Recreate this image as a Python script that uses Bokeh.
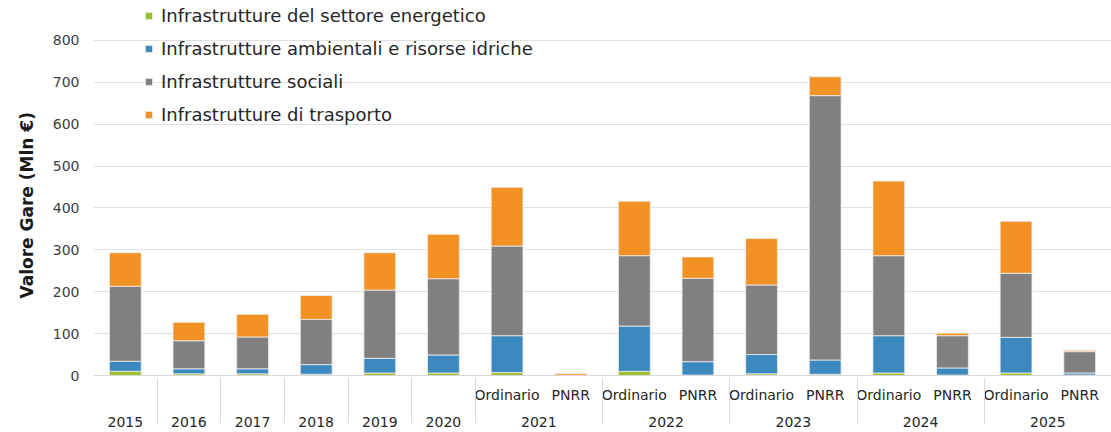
from bokeh.plotting import figure
from bokeh.models import (ColumnDataSource, FactorRange, Range1d, FixedTicker,
                          Legend, LegendItem, Title)
from bokeh.embed import file_html
from bokeh.resources import INLINE

# ---- data ----
years = ["2015", "2016", "2017", "2018", "2019", "2020",
         "2021", "2021", "2022", "2022", "2023", "2023",
         "2024", "2024", "2025", "2025"]
subs = [" ", " ", " ", " ", " ", " ",
        "Ordinario", "PNRR", "Ordinario", "PNRR", "Ordinario", "PNRR",
        "Ordinario", "PNRR", "Ordinario", "PNRR"]
energetico = [10, 4, 4, 3, 6, 6, 7, 0, 10, 1, 4, 3, 6, 1, 6, 1]
ambientali = [24, 12, 12, 23, 35, 43, 88, 0, 108, 32, 46, 34, 89, 17, 85, 5]
sociali = [179, 67, 76, 108, 163, 182, 214, 0, 168, 199, 166, 631, 191, 77, 153, 51]
trasporto = [80, 44, 54, 57, 89, 106, 140, 4, 130, 51, 111, 45, 178, 6, 124, 3]
series_labels = ["Infrastrutture del settore energetico",
                 "Infrastrutture ambientali e risorse idriche",
                 "Infrastrutture sociali",
                 "Infrastrutture di trasporto"]
y_ticks = [0, 100, 200, 300, 400, 500, 600, 700, 800]
y_title = "Valore Gare (Mln €)"

colors = ["#9DC12B", "#3B89BF", "#808080", "#F39224"]
keys = ["energetico", "ambientali", "sociali", "trasporto"]

# 3-level factors: year (bottom row), spacer (middle), sub (top row)
factors = [(y, " ", s) for y, s in zip(years, subs)]
source = ColumnDataSource(dict(x=factors, energetico=energetico,
                               ambientali=ambientali, sociali=sociali,
                               trasporto=trasporto))

FONT = "DejaVu Sans"

p = figure(width=1111, height=432, output_backend="svg", toolbar_location=None,
           x_range=FactorRange(*factors, factor_padding=0, subgroup_padding=0,
                               group_padding=0, range_padding=0),
           y_range=Range1d(0, 895),
           min_border_left=93, min_border_right=0, min_border_top=0,
           min_border_bottom=57)

renderers = p.vbar_stack(keys, x="x", width=0.5, source=source, color=colors,
                         line_color="#EDEDED", line_width=0.8)

legend = Legend(items=[LegendItem(label=l, renderers=[r])
                       for l, r in zip(series_labels, renderers)],
                location=(51, 250), padding=0, margin=0, spacing=12,
                glyph_width=9, glyph_height=9, label_height=20,
                label_standoff=8, label_text_font=FONT,
                label_text_font_size="18px", label_text_color="#262626",
                background_fill_alpha=0, border_line_color=None)
p.add_layout(legend, "center")

p.outline_line_color = None
p.xgrid.grid_line_color = None
p.ygrid.grid_line_color = "#E0E0E0"
p.ygrid.grid_line_width = 1

p.yaxis.ticker = FixedTicker(ticks=y_ticks)
p.yaxis.axis_line_color = None
p.yaxis.major_tick_line_color = None
p.yaxis.minor_tick_line_color = None
p.yaxis.major_tick_out = 0
p.yaxis.major_label_text_font = FONT
p.yaxis.major_label_text_font_size = "14px"
p.yaxis.major_label_text_color = "#404040"
p.yaxis.major_label_standoff = 14

ytitle = Title(text=y_title, align="left", offset=77, standoff=25,
               text_font=FONT, text_font_style="bold", text_font_size="17px",
               text_color="#1A1A1A")
p.add_layout(ytitle, "left")

xa = p.xaxis[0]
xa.axis_line_color = "#D9D9D9"
xa.major_tick_line_color = None
xa.minor_tick_line_color = None
xa.major_tick_out = 0
xa.major_label_standoff = 11
xa.major_label_text_font = FONT
xa.major_label_text_font_size = "14px"
xa.major_label_text_color = "#262626"
xa.subgroup_text_font_size = "6px"
xa.subgroup_text_color = "#262626"
xa.subgroup_text_alpha = 0
xa.group_text_font = FONT
xa.group_text_font_size = "14px"
xa.group_text_color = "#262626"
xa.group_text_font_style = "normal"
xa.subgroup_text_font_style = "normal"
xa.separator_line_color = "#D9D9D9"
xa.separator_line_width = 1
xa.major_label_orientation = "horizontal"
xa.group_label_orientation = "horizontal"
xa.subgroup_label_orientation = "horizontal"

open("out.html", "w").write(file_html(p, INLINE))
